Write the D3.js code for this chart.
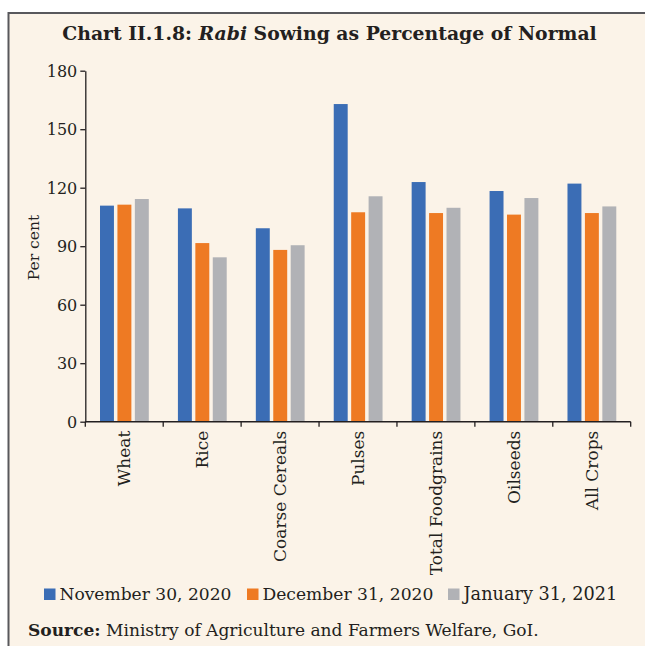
<!DOCTYPE html>
<html>
<head>
<meta charset="utf-8">
<script src="https://cdn.jsdelivr.net/npm/d3@7"></script>
<style>
  html, body { margin: 0; padding: 0; background: #ffffff; overflow: hidden; }
  svg { display: block; }
  text { font-family: "DejaVu Serif", "Liberation Serif", serif; fill: #231f20; }
</style>
</head>
<body>
<svg id="chart" width="645" height="646"></svg>
<script>
// ---- Data ----
const categories = ["Wheat", "Rice", "Coarse Cereals", "Pulses", "Total Foodgrains", "Oilseeds", "All Crops"];
const seriesNames = ["November 30, 2020", "December 31, 2020", "January 31, 2021"];
const nov2020 = [110.8, 109.4, 99.2, 162.9, 122.9, 118.3, 122.1];
const dec2020 = [111.3, 91.6, 88.1, 107.4, 107.0, 106.2, 107.0];
const jan2021 = [114.2, 84.3, 90.5, 115.6, 109.7, 114.7, 110.4];
const yTicks = [0, 30, 60, 90, 120, 150, 180];
const seriesColors = ["#3b6db5", "#ee7a23", "#b1b2b6"];

const seriesValues = [nov2020, dec2020, jan2021];

const svg = d3.select("#chart");

// Panel background and frame (left and top edges visible)
svg.append("rect").attr("x", 0).attr("y", 0).attr("width", 645).attr("height", 646).attr("fill", "#ffffff");
svg.append("rect")
  .attr("x", 8.5).attr("y", 13).attr("width", 700).attr("height", 700)
  .attr("fill", "#fbf3e8").attr("stroke", "#58585c").attr("stroke-width", 2);

// helper: fit text to a target width by adjusting font-size
function fitText(sel, targetWidth) {
  const node = sel.node();
  const fs = parseFloat(sel.attr("font-size"));
  const w = node.getComputedTextLength();
  if (w > 0) sel.attr("font-size", (fs * targetWidth / w).toFixed(2));
  return sel;
}

// Title
const title = svg.append("text")
  .attr("x", 329.5).attr("y", 40)
  .attr("text-anchor", "middle")
  .attr("font-size", 17).attr("font-weight", "bold");
title.append("tspan").text("Chart II.1.8: ");
title.append("tspan").attr("font-style", "italic").text("Rabi");
title.append("tspan").text(" Sowing as Percentage of Normal");
fitText(title, 535);

// Scales
const x0 = d3.scaleBand().domain(categories).range([85.3, 630.7]).paddingInner(0).paddingOuter(0);
const x1 = d3.scaleBand().domain(seriesNames).range([14.7, 63.5]).paddingInner(0.2);
const y = d3.scaleLinear().domain([0, 180]).range([421.7, 70.7]);

// Bars
const groups = svg.append("g").selectAll("g")
  .data(categories)
  .join("g")
  .attr("transform", d => `translate(${x0(d)},0)`);

groups.selectAll("rect")
  .data((d, i) => seriesNames.map((s, j) => ({ s, v: seriesValues[j][i], c: seriesColors[j] })))
  .join("rect")
  .attr("x", d => x1(d.s))
  .attr("y", d => y(d.v))
  .attr("width", x1.bandwidth())
  .attr("height", d => y(0) - y(d.v))
  .attr("fill", d => d.c);

// Y axis
const yAxis = d3.axisLeft(y).tickValues(yTicks).tickSize(5).tickPadding(3).tickSizeOuter(0);
const gy = svg.append("g").attr("transform", "translate(85.3,0)").call(yAxis);
gy.select(".domain").attr("stroke", "#231f20").attr("stroke-width", 1.3);
gy.selectAll(".tick line").attr("stroke", "#231f20").attr("stroke-width", 1.3);
gy.selectAll(".tick text")
  .attr("font-family", "DejaVu Serif, serif")
  .attr("font-size", 16)
  .attr("fill", "#231f20")
  .attr("dy", "0.35em");

// X axis (ticks at category boundaries)
const gx = svg.append("g").attr("transform", `translate(0,${y(0)})`);
gx.append("line")
  .attr("x1", x0.range()[0]).attr("x2", x0.range()[1])
  .attr("y1", 0).attr("y2", 0)
  .attr("stroke", "#231f20").attr("stroke-width", 1.5);
const boundaries = categories.map(c => x0(c)).concat([x0.range()[1]]);
gx.selectAll("line.tk")
  .data(boundaries)
  .join("line")
  .attr("class", "tk")
  .attr("x1", d => d).attr("x2", d => d)
  .attr("y1", 0).attr("y2", 5)
  .attr("stroke", "#231f20").attr("stroke-width", 1.3);
gx.selectAll("text.cat")
  .data(categories)
  .join("text")
  .attr("class", "cat")
  .attr("font-size", 17)
  .attr("text-anchor", "end")
  .attr("dy", "0.35em")
  .attr("transform", d => `translate(${x0(d) + x0.bandwidth() / 2},9) rotate(-90)`)
  .text(d => d);

// Y label
svg.append("text")
  .attr("transform", "translate(34,247.5) rotate(-90)")
  .attr("text-anchor", "middle")
  .attr("dy", "0.35em")
  .attr("font-size", 15.5)
  .text("Per cent");

// Legend
const legendX = [44, 247, 448];
const legendW = [172, 171, 154];
const legend = svg.append("g").selectAll("g")
  .data(seriesNames)
  .join("g")
  .attr("transform", (d, i) => `translate(${legendX[i]},594)`);
legend.append("rect")
  .attr("x", 0).attr("y", -5.5).attr("width", 11.5).attr("height", 11.5)
  .attr("fill", (d, i) => seriesColors[i]);
legend.append("text")
  .attr("x", 15.5).attr("y", 0).attr("dy", "0.35em")
  .attr("font-size", 17)
  .text(d => d)
  .each(function(d, i) { fitText(d3.select(this), legendW[i]); });

// Source
const src = svg.append("text").attr("x", 28).attr("y", 636).attr("font-size", 15);
src.append("tspan").attr("font-weight", "bold").text("Source:");
src.append("tspan").text(" Ministry of Agriculture and Farmers Welfare, GoI.");
fitText(src, 511);
</script>
</body>
</html>
